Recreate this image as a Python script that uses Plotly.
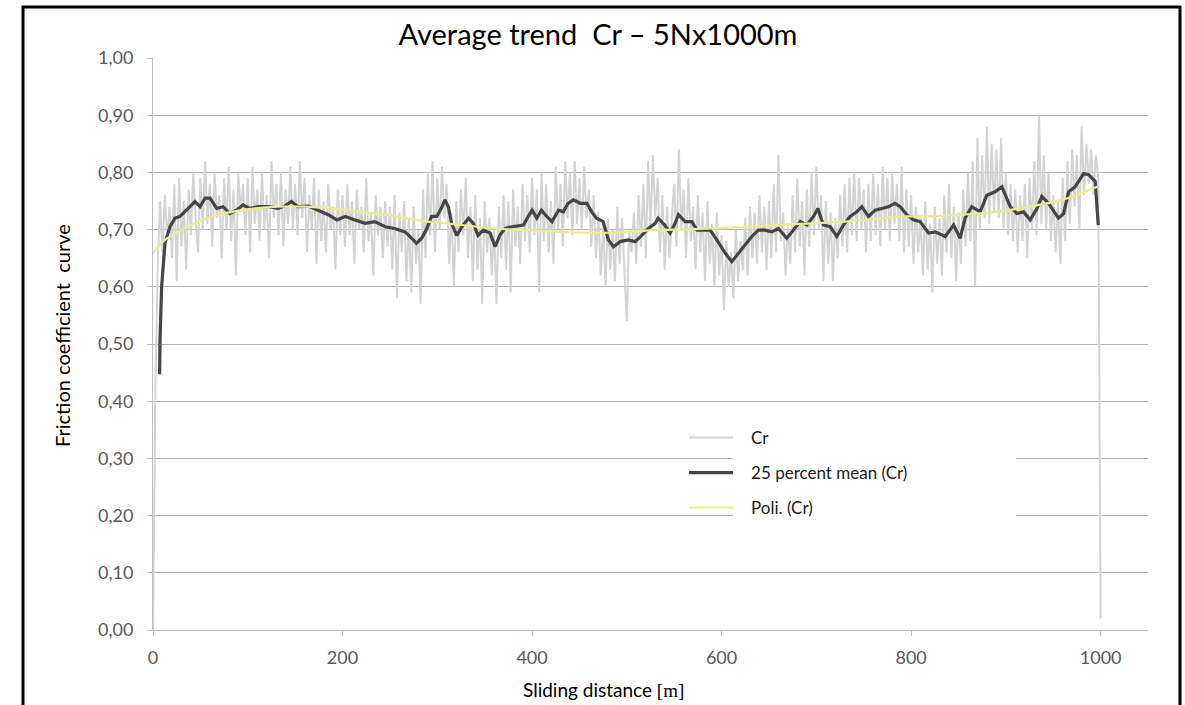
import plotly.graph_objects as go

# ---------------- data ----------------
raw_step = 2.5  # metres between raw samples
raw_cr = [
    # 0 - 47.5
    0.00, 0.42, 0.64, 0.75, 0.66, 0.76, 0.68, 0.74, 0.65, 0.78, 0.61, 0.79, 0.67, 0.75, 0.63, 0.77, 0.69, 0.80, 0.72, 0.66,
    # 50 - 97.5
    0.79, 0.70, 0.82, 0.71, 0.78, 0.67, 0.80, 0.72, 0.76, 0.65, 0.79, 0.70, 0.81, 0.68, 0.77, 0.62, 0.80, 0.73, 0.78, 0.69,
    # 100 - 147.5
    0.79, 0.66, 0.81, 0.71, 0.77, 0.68, 0.80, 0.70, 0.76, 0.65, 0.82, 0.72, 0.78, 0.69, 0.80, 0.67, 0.77, 0.71, 0.81, 0.70,
    # 150 - 197.5
    0.78, 0.69, 0.82, 0.72, 0.79, 0.66, 0.76, 0.70, 0.79, 0.64, 0.77, 0.68, 0.75, 0.66, 0.78, 0.70, 0.74, 0.63, 0.77, 0.69,
    # 200 - 247.5
    0.76, 0.67, 0.78, 0.69, 0.75, 0.64, 0.77, 0.70, 0.74, 0.66, 0.79, 0.68, 0.73, 0.62, 0.76, 0.69, 0.74, 0.65, 0.75, 0.67,
    # 250 - 297.5
    0.74, 0.63, 0.76, 0.58, 0.73, 0.66, 0.75, 0.61, 0.72, 0.59, 0.74, 0.64, 0.70, 0.57, 0.77, 0.65, 0.80, 0.69, 0.82, 0.66,
    # 300 - 347.5
    0.79, 0.70, 0.81, 0.72, 0.78, 0.64, 0.73, 0.60, 0.75, 0.66, 0.77, 0.69, 0.79, 0.65, 0.74, 0.61, 0.76, 0.63, 0.72, 0.57,
    # 350 - 397.5
    0.75, 0.66, 0.72, 0.62, 0.70, 0.57, 0.74, 0.65, 0.76, 0.63, 0.75, 0.59, 0.77, 0.67, 0.74, 0.64, 0.78, 0.68, 0.76, 0.66,
    # 400 - 447.5
    0.79, 0.69, 0.77, 0.59, 0.80, 0.68, 0.78, 0.66, 0.75, 0.64, 0.81, 0.70, 0.78, 0.67, 0.82, 0.72, 0.80, 0.69, 0.82, 0.71,
    # 450 - 497.5
    0.79, 0.70, 0.81, 0.72, 0.77, 0.67, 0.76, 0.65, 0.73, 0.62, 0.71, 0.60, 0.72, 0.63, 0.70, 0.61, 0.74, 0.64, 0.72, 0.62,
    # 500 - 547.5
    0.54, 0.70, 0.66, 0.73, 0.64, 0.76, 0.67, 0.78, 0.65, 0.82, 0.70, 0.83, 0.72, 0.79, 0.66, 0.76, 0.63, 0.74, 0.65, 0.72,
    # 550 - 597.5
    0.78, 0.67, 0.84, 0.70, 0.77, 0.65, 0.79, 0.68, 0.74, 0.63, 0.76, 0.66, 0.73, 0.61, 0.75, 0.64, 0.71, 0.60, 0.73, 0.62,
    # 600 - 647.5
    0.69, 0.56, 0.68, 0.60, 0.66, 0.58, 0.70, 0.61, 0.68, 0.63, 0.72, 0.62, 0.74, 0.65, 0.73, 0.64, 0.76, 0.66, 0.74, 0.63,
    # 650 - 697.5
    0.75, 0.65, 0.78, 0.66, 0.83, 0.68, 0.73, 0.62, 0.71, 0.64, 0.76, 0.66, 0.79, 0.67, 0.75, 0.62, 0.77, 0.67, 0.80, 0.69,
    # 700 - 747.5
    0.81, 0.70, 0.76, 0.61, 0.75, 0.64, 0.73, 0.61, 0.72, 0.65, 0.76, 0.67, 0.78, 0.66, 0.79, 0.69, 0.80, 0.68, 0.79, 0.70,
    # 750 - 797.5
    0.77, 0.66, 0.78, 0.68, 0.80, 0.69, 0.78, 0.67, 0.81, 0.70, 0.79, 0.68, 0.80, 0.71, 0.78, 0.68, 0.81, 0.66, 0.77, 0.67,
    # 800 - 847.5
    0.76, 0.64, 0.74, 0.66, 0.72, 0.62, 0.75, 0.63, 0.71, 0.59, 0.74, 0.64, 0.72, 0.62, 0.76, 0.66, 0.78, 0.65, 0.74, 0.61,
    # 850 - 897.5
    0.73, 0.64, 0.77, 0.67, 0.80, 0.68, 0.82, 0.60, 0.86, 0.70, 0.83, 0.72, 0.88, 0.71, 0.85, 0.73, 0.84, 0.72, 0.86, 0.70,
    # 900 - 947.5
    0.80, 0.69, 0.78, 0.68, 0.77, 0.66, 0.76, 0.68, 0.78, 0.65, 0.79, 0.70, 0.82, 0.69, 0.90, 0.71, 0.83, 0.70, 0.80, 0.68,
    # 950 - 997.5
    0.76, 0.66, 0.75, 0.64, 0.79, 0.68, 0.82, 0.71, 0.84, 0.74, 0.83, 0.70, 0.88, 0.76, 0.85, 0.78, 0.84, 0.76, 0.83, 0.79,
    # 1000
    0.02,
]
raw_dist = [i * raw_step for i in range(len(raw_cr))]

mean_dist = [7.0, 7.4, 9.1, 12.7, 17.9, 23.2, 28.5, 33.8, 39, 44.3, 49.6, 54.9, 60.2, 67.2, 74, 81, 88, 95, 102,
             111, 122, 132, 139, 146, 153, 164, 174.5, 185, 194, 203, 213, 224, 234, 245, 255, 266, 271, 278,
             283.6, 289, 294, 299.5, 305, 308, 311.7, 315, 320.5, 326, 333, 338, 343, 348.5, 355.7, 361, 366,
             371.5, 378.6, 385.6, 391, 396, 400, 405, 410, 415.5, 421, 428, 433, 438, 443.7, 450.7, 457.8, 463,
             468, 475, 480.6, 485.9, 493, 501.7, 508.8, 515.8, 522.8, 530, 533, 540, 545.7, 551, 554.5, 561.5,
             568.6, 574, 582.7, 588, 595, 603.8, 610.8, 617.8, 624.9, 631.9, 638.9, 646, 653, 660, 668.8, 675.8,
             683, 690, 697, 701.6, 707.5, 714.6, 721.6, 728.6, 735.7, 742.7, 748, 755, 762, 769, 776, 783, 788.5,
             795.5, 802.5, 809.6, 818.4, 825.4, 836, 844.8, 851.8, 857, 864, 872.9, 879.9, 888.7, 895.8, 904.6,
             911.7, 918.7, 925.7, 932.8, 938, 945, 955.6, 960.9, 966.2, 973.2, 982, 987.3, 994.3, 997.5]
mean_cr = [0.447, 0.507, 0.600, 0.677, 0.705, 0.720, 0.723, 0.731, 0.740, 0.749, 0.740, 0.755, 0.755, 0.737, 0.740,
           0.728, 0.734, 0.743, 0.737, 0.740, 0.740, 0.737, 0.741, 0.749, 0.740, 0.741, 0.734, 0.726, 0.717, 0.723,
           0.717, 0.711, 0.714, 0.705, 0.702, 0.696, 0.688, 0.676, 0.685, 0.702, 0.723, 0.723, 0.740, 0.752, 0.740,
           0.711, 0.690, 0.705, 0.720, 0.711, 0.690, 0.699, 0.694, 0.670, 0.690, 0.702, 0.705, 0.706, 0.708, 0.723,
           0.734, 0.720, 0.734, 0.723, 0.714, 0.734, 0.731, 0.746, 0.752, 0.746, 0.746, 0.731, 0.720, 0.714, 0.682,
           0.670, 0.679, 0.682, 0.679, 0.690, 0.702, 0.711, 0.720, 0.708, 0.694, 0.711, 0.726, 0.714, 0.714, 0.699,
           0.699, 0.699, 0.682, 0.659, 0.644, 0.659, 0.673, 0.688, 0.699, 0.699, 0.696, 0.702, 0.685, 0.699, 0.714,
           0.708, 0.723, 0.737, 0.708, 0.705, 0.688, 0.708, 0.723, 0.731, 0.740, 0.723, 0.734, 0.737, 0.740, 0.746,
           0.740, 0.726, 0.717, 0.714, 0.694, 0.696, 0.688, 0.708, 0.685, 0.720, 0.740, 0.731, 0.760, 0.766, 0.775,
           0.740, 0.728, 0.731, 0.717, 0.737, 0.758, 0.746, 0.720, 0.728, 0.766, 0.775, 0.798, 0.796, 0.784, 0.708]

poly_dist = [0, 12.7, 26.7, 44.3, 62, 83, 107.7, 132, 160, 188.6, 216.7, 245, 266, 290.5, 326, 361, 396, 431,
             466.5, 501.7, 530, 589.7, 660, 730, 793.6, 818, 853.6, 888.7, 923.8, 959, 996.3]
poly_cr = [0.659, 0.682, 0.696, 0.711, 0.723, 0.731, 0.737, 0.740, 0.740, 0.737, 0.731, 0.726, 0.720, 0.714,
           0.708, 0.702, 0.699, 0.696, 0.694, 0.696, 0.699, 0.702, 0.708, 0.714, 0.723, 0.723, 0.726, 0.731,
           0.740, 0.752, 0.775]

x_ticks = [0, 200, 400, 600, 800, 1000]
series_names = ["Cr", "25 percent mean (Cr)", "Poli. (Cr)"]
title_text = "Average trend  Cr – 5Nx1000m"
x_title = "Sliding distance <span style='font-family:Liberation Serif'>[m]</span>"
y_title = "Friction coefficient  curve"

# ---------------- figure ----------------
FONT = "Lato, 'Open Sans', sans-serif"
PAD = "\u00a0\u00a0\u00a0"
fig = go.Figure()
fig.add_trace(go.Scatter(x=raw_dist, y=raw_cr, mode="lines", name=PAD + series_names[0],
                         line=dict(color="#d3d3d3", width=2), legendgroup="a"))
fig.add_trace(go.Scatter(x=mean_dist, y=mean_cr, mode="lines", name=PAD + series_names[1],
                         line=dict(color="#454545", width=3.2), legendgroup="b"))
fig.add_trace(go.Scatter(x=poly_dist, y=poly_cr, mode="lines", name=PAD + series_names[2], line_shape="spline",
                         line=dict(color="#ecec8c", width=2.2), legendgroup="c"))

def px_to_paper_x(px):
    return (px - 153) / 995

def px_to_paper_y(py):
    return (630 - py) / 572

fig.update_layout(
    width=1185, height=705,
    margin=dict(l=153, r=37, t=58, b=75),
    paper_bgcolor="white", plot_bgcolor="white",
    separators=", ",
    font=dict(family=FONT, color="#595959", size=18),
    title=dict(text=title_text, x=598 / 1185, xref="container", xanchor="center",
               y=1 - 35 / 705, yref="container", yanchor="middle",
               font=dict(family=FONT, size=29, color="black")),
    showlegend=True,
    legend=dict(x=px_to_paper_x(684), xanchor="left", y=px_to_paper_y(420), yanchor="top",
                bgcolor="rgba(0,0,0,0)", font=dict(family=FONT, size=17, color="#1a1a1a"),
                tracegroupgap=10, itemwidth=44),
    xaxis=dict(range=[0, 1050], tickvals=x_ticks, showgrid=False, zeroline=False,
               showline=True, linecolor="#bfbfbf", linewidth=1,
               ticks="outside", ticklen=5, tickcolor="#bfbfbf", ticklabelstandoff=6,
               tickfont=dict(size=18, color="#595959")),
    yaxis=dict(range=[0, 1.0], dtick=0.1, tickformat=".2f", showgrid=True, gridcolor="#b4b4b4", gridwidth=1,
               zeroline=False, showline=True, linecolor="#bfbfbf", linewidth=1,
               ticks="outside", ticklen=5, tickcolor="#bfbfbf", ticklabelstandoff=10,
               tickfont=dict(size=18, color="#595959")),
)

# axis titles placed where the reference has them
fig.add_annotation(text=x_title, xref="paper", yref="paper", x=px_to_paper_x(603), y=px_to_paper_y(689),
                   xanchor="center", yanchor="middle", showarrow=False,
                   font=dict(family=FONT, size=19, color="black"))
fig.add_annotation(text=y_title, xref="paper", yref="paper", x=px_to_paper_x(62), y=px_to_paper_y(336),
                   xanchor="center", yanchor="middle", showarrow=False, textangle=-90,
                   font=dict(family=FONT, size=20, color="black"))

# white box behind title (covers the top grid line)
fig.add_shape(type="rect", xref="paper", yref="paper", layer="above",
              x0=px_to_paper_x(386), x1=px_to_paper_x(827), y0=px_to_paper_y(66), y1=px_to_paper_y(18),
              fillcolor="white", line=dict(width=0))
# white box behind the legend texts (covers grid lines)
fig.add_shape(type="rect", xref="paper", yref="paper", layer="above",
              x0=px_to_paper_x(733), x1=px_to_paper_x(1016), y0=px_to_paper_y(522), y1=px_to_paper_y(425),
              fillcolor="white", line=dict(width=0))
# outer black frame
fig.add_shape(type="rect", xref="paper", yref="paper", layer="above",
              x0=px_to_paper_x(23), x1=px_to_paper_x(1180), y0=px_to_paper_y(720), y1=px_to_paper_y(7),
              fillcolor="rgba(0,0,0,0)", line=dict(color="black", width=3))

fig.write_html("out.html")
